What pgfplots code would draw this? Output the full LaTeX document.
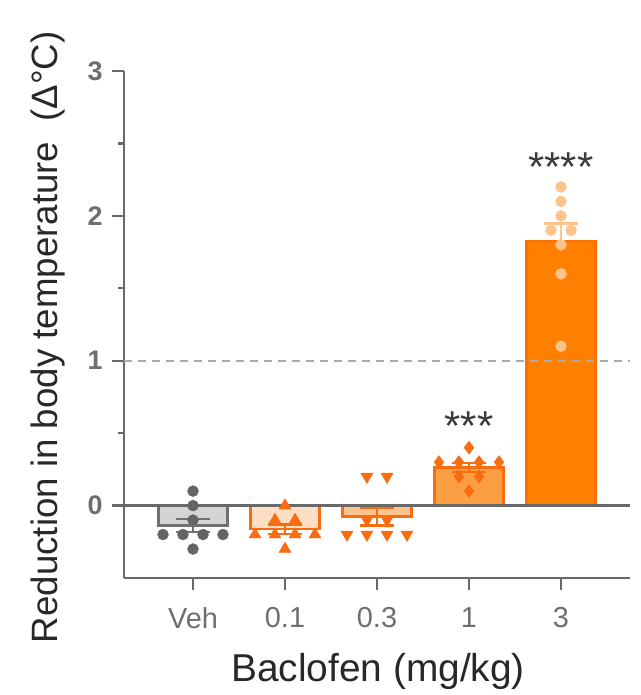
\documentclass[border=0pt]{standalone}
\usepackage{fontspec}
\setmainfont{Liberation Sans}
\usepackage{pgfplots}
\pgfplotsset{compat=1.18}

\definecolor{axisgray}{RGB}{105,105,105}
\definecolor{tickgray}{RGB}{110,110,110}
\definecolor{labelcol}{RGB}{40,40,40}
\definecolor{starcol}{RGB}{60,60,60}
\definecolor{dashgray}{RGB}{170,170,170}
% Vehicle
\definecolor{vehfill}{RGB}{212,212,212}
\definecolor{vehedge}{RGB}{112,112,112}
\definecolor{vehpt}{RGB}{100,100,100}
% Baclofen doses
\definecolor{orgedge}{RGB}{250,108,16}
\definecolor{fillA}{RGB}{253,224,196}
\definecolor{fillB}{RGB}{253,196,142}
\definecolor{fillC}{RGB}{252,158,66}
\definecolor{fillD}{RGB}{255,128,0}
\definecolor{edgeD}{RGB}{255,112,0}
\definecolor{peach}{RGB}{255,196,142}

\pgfplotsset{
  sembar/.style={ybar, bar width=0.75, bar shift=0pt, line width=2.2bp,
    error bars/y explicit, error bars/error mark=|,
    error bars/error bar style={color=#1, line width=2.2bp},
    error bars/error mark options={color=#1, line width=2.2bp, mark size=17bp}},
}

\begin{document}
\begin{tikzpicture}
\useasboundingbox (-124bp,-117bp) rectangle (517bp,578bp);
\begin{axis}[
  at={(0,0)}, anchor=south west,
  scale only axis, width=506bp, height=507bp,
  xmin=-0.75, xmax=4.75, ymin=-0.5, ymax=3,
  axis x line*=bottom, axis y line*=left,
  axis line style={color=axisgray, line width=2.4bp},
  tick align=outside,
  major tick length=12bp, minor tick length=6bp,
  every tick/.style={color=axisgray, line width=2.4bp},
  xtick={0,1,2,3,4}, xticklabels={Veh,0.1,0.3,1,3},
  ytick={0,1,2,3}, minor ytick={0.5,1.5,2.5},
  /pgf/number format/assume math mode=true,
  xticklabel style={font=\fontsize{29}{32}\selectfont, text=tickgray, yshift=-14bp},
  yticklabel style={font=\bfseries\fontsize{27}{30}\selectfont, text=tickgray, xshift=-6bp},
  xlabel={Baclofen (mg/kg)},
  ylabel={Reduction in body temperature~~(Δ°C)},
  every axis x label/.style={at={(axis description cs:0.502,-0.185)}, anchor=center,
    font=\fontsize{39}{44}\selectfont, text=labelcol},
  every axis y label/.style={at={(axis description cs:-0.150,0.475)}, anchor=center, rotate=90,
    font=\fontsize{36.8}{42}\selectfont, text=labelcol},
  clip=false,
]

% bars (mean) with SEM error bars
\addplot[sembar=vehedge, fill=vehfill, draw=vehedge, error bars/y dir=both]
  coordinates {(0,-0.1375) +- (0,0.046)};
\addplot[sembar=orgedge, fill=fillA, draw=orgedge, error bars/y dir=both]
  coordinates {(1,-0.1625) +- (0,0.0324)};
\addplot[sembar=orgedge, fill=fillB, draw=orgedge, error bars/y dir=both]
  coordinates {(2,-0.075) +- (0,0.062)};
\addplot[sembar=orgedge, fill=fillC, draw=orgedge, error bars/y dir=both]
  coordinates {(3,0.2625) +- (0,0.0324)};
\addplot[sembar=peach, fill=fillD, draw=edgeD, error bars/y dir=plus]
  coordinates {(4,1.825) +- (0,0.122)};

% reference lines
\addplot[color=axisgray, line width=2.6bp, mark=none] coordinates {(-0.75,0) (4.75,0)};
\addplot[color=dashgray, line width=1.8bp, dash pattern=on 8bp off 6bp, mark=none]
  coordinates {(-0.75,1) (4.75,1)};

% individual animals
\addplot[only marks, mark=*, mark size=5.5bp, color=vehpt]
  coordinates {(0,0.1) (0,0) (0,-0.1) (-0.326,-0.2) (-0.109,-0.2) (0.109,-0.2) (0.326,-0.2) (0,-0.3)};
\addplot[only marks, mark=triangle*, mark size=7bp, color=orgedge]
  coordinates {(1,0) (0.891,-0.1) (1.109,-0.1) (0.674,-0.2) (0.891,-0.2) (1.109,-0.2) (1.326,-0.2) (1,-0.3)};
\addplot[only marks, mark=triangle*, mark size=7bp, color=orgedge, mark options={rotate=180}]
  coordinates {(1.891,0.2) (2.109,0.2) (1.891,-0.1) (2.109,-0.1) (1.674,-0.2) (1.891,-0.2) (2.109,-0.2) (2.326,-0.2)};
\addplot[only marks, mark=diamond*, mark size=6.5bp, color=orgedge]
  coordinates {(3,0.4) (2.674,0.3) (2.891,0.3) (3.109,0.3) (3.326,0.3) (2.891,0.2) (3.109,0.2) (3,0.1)};
\addplot[only marks, mark=*, mark size=5.5bp, color=peach]
  coordinates {(4,2.2) (4,2.1) (4,2.0) (3.891,1.9) (4.109,1.9) (4,1.8) (4,1.6) (4,1.1)};

% significance
\node[font=\fontsize{42}{46}\selectfont, text=starcol, anchor=base] at (axis cs:3,0.448) {***};
\node[font=\fontsize{42}{46}\selectfont, text=starcol, anchor=base] at (axis cs:4,2.24) {****};
\end{axis}
\end{tikzpicture}
\end{document}
